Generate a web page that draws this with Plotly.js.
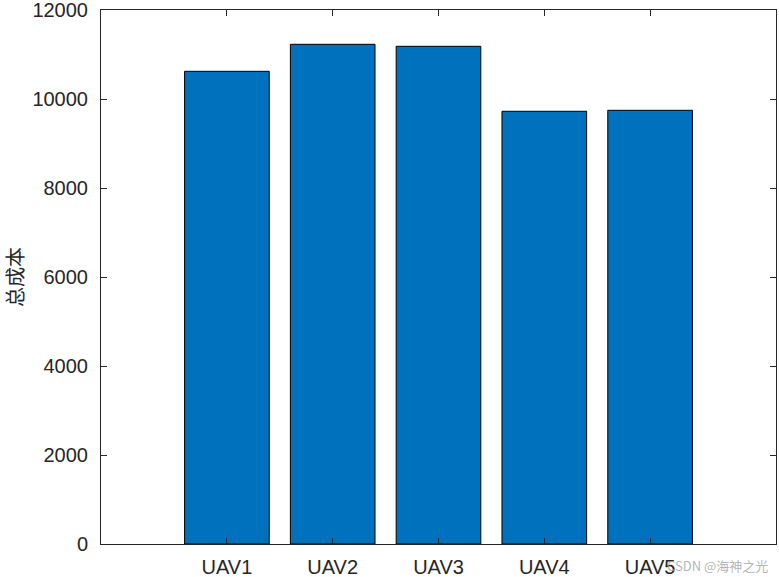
<!DOCTYPE html>
<html>
<head>
<meta charset="utf-8">
<script src="https://cdn.plot.ly/plotly-3.0.1.min.js"></script>
<style>html,body{margin:0;padding:0;background:#fff;}#chart{width:779px;height:577px;}</style>
</head>
<body>
<div id="chart"></div>
<script>
const categories = ['UAV1', 'UAV2', 'UAV3', 'UAV4', 'UAV5'];
const totalCost = [10622, 11229, 11184, 9724, 9746];
const yTicks = [0, 2000, 4000, 6000, 8000, 10000, 12000];
const yTitle = '总成本';
const watermark = 'CSDN @海神之光';

const axisColor = '#262626';
const trace = {
  type: 'bar',
  x: categories,
  y: totalCost,
  width: 0.8,
  marker: {color: '#0072BD', line: {color: '#000000', width: 1}},
  hoverinfo: 'x+y'
};

const layout = {
  width: 779,
  height: 577,
  margin: {l: 101, r: 3, t: 10, b: 33, pad: 0},
  paper_bgcolor: '#ffffff',
  plot_bgcolor: '#ffffff',
  showlegend: false,
  font: {family: 'Liberation Sans, Arial, sans-serif', size: 20, color: axisColor},
  xaxis: {
    type: 'category',
    range: [-1.19, 5.19],
    showline: true, linecolor: axisColor, linewidth: 1,
    mirror: 'ticks',
    ticks: 'inside', ticklen: 6, tickcolor: axisColor, tickwidth: 1,
    showgrid: false, zeroline: false,
    ticklabelstandoff: 5,
    ticklabeloverflow: 'allow',
    tickfont: {size: 20, color: axisColor}
  },
  yaxis: {
    range: [0, 12000],
    tickvals: yTicks,
    ticktext: yTicks.map(String),
    showline: true, linecolor: axisColor, linewidth: 1,
    mirror: 'ticks',
    ticks: 'inside', ticklen: 6, tickcolor: axisColor, tickwidth: 1,
    showgrid: false, zeroline: false,
    ticklabelstandoff: 8,
    ticklabeloverflow: 'allow',
    tickfont: {size: 20, color: axisColor},
    title: {text: yTitle, font: {family: 'Noto Sans CJK SC, sans-serif', size: 20, color: axisColor}, standoff: 14}
  },
  annotations: [{
    text: watermark, xref: 'paper', yref: 'paper', x: 1, y: 0,
    xanchor: 'right', yanchor: 'top', yshift: -10, xshift: -6, showarrow: false,
    font: {family: 'Noto Sans CJK SC, sans-serif', size: 13, color: 'rgba(160,160,160,0.8)'}
  }]
};

Plotly.newPlot('chart', [trace], layout, {displayModeBar: false, staticPlot: true});
</script>
</body>
</html>
